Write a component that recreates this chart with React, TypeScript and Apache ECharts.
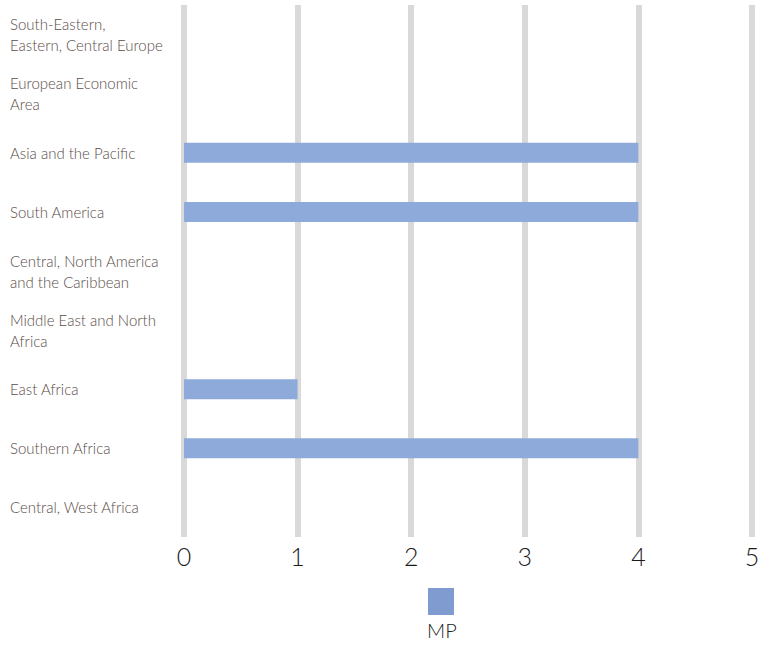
import React, { useEffect, useRef } from "react";
import * as echarts from "echarts";

const categories = [
  "South-Eastern,\nEastern, Central Europe",
  "European Economic\nArea",
  "Asia and the Pacific",
  "South America",
  "Central, North America\nand the Caribbean",
  "Middle East and North\nAfrica",
  "East Africa",
  "Southern Africa",
  "Central, West Africa",
];
const mpValues = [0, 0, 4, 4, 0, 0, 1, 4, 0];
const seriesName = "MP";
const xTicks = [0, 1, 2, 3, 4, 5];

export default function App() {
  const ref = useRef<HTMLDivElement>(null);
  useEffect(() => {
    if (!ref.current) return;
    const chart = echarts.init(ref.current, null, { renderer: "svg" });
    chart.setOption({
      animation: false,
      grid: { left: 184, right: 11, top: 5, bottom: 108, containLabel: false },
      xAxis: {
        type: "value",
        min: xTicks[0],
        max: xTicks[xTicks.length - 1],
        interval: 1,
        axisLine: { show: false },
        axisTick: { show: false },
        splitLine: { show: true, lineStyle: { color: "#d9d9d9", width: 6 } },
        axisLabel: {
          margin: 6,
          fontSize: 25,
          color: "#1a1a1a",
          fontFamily: "Lato",
          fontWeight: 300,
        },
      },
      yAxis: {
        type: "category",
        data: categories,
        inverse: true,
        axisLine: { show: false },
        axisTick: { show: false },
        splitLine: { show: false },
        axisLabel: {
          align: "left",
          margin: 174,
          fontSize: 15,
          lineHeight: 21,
          color: "#5a4d47",
          fontFamily: "Lato",
          fontWeight: 300,
        },
      },
      legend: {
        show: true,
        left: 428,
        top: 588,
        padding: 0,
        itemWidth: 26,
        itemHeight: 27,
        icon: "rect",
        formatter: () => "",
        data: [{ name: seriesName, itemStyle: { color: "#7f9bd0" } }],
      },
      graphic: [
        {
          type: "text",
          left: 427,
          top: 620,
          style: {
            text: seriesName,
            fontSize: 20,
            fill: "#222",
            fontFamily: "Lato",
            fontWeight: 300,
          },
        },
      ],
      series: [
        {
          name: seriesName,
          type: "bar",
          data: mpValues,
          barWidth: 20,
          itemStyle: { color: "#8eaadb" },
        },
      ],
    });
    return () => chart.dispose();
  }, []);
  return <div ref={ref} style={{ width: 763, height: 645, position: "absolute", left: 0, top: 0 }} />;
}
